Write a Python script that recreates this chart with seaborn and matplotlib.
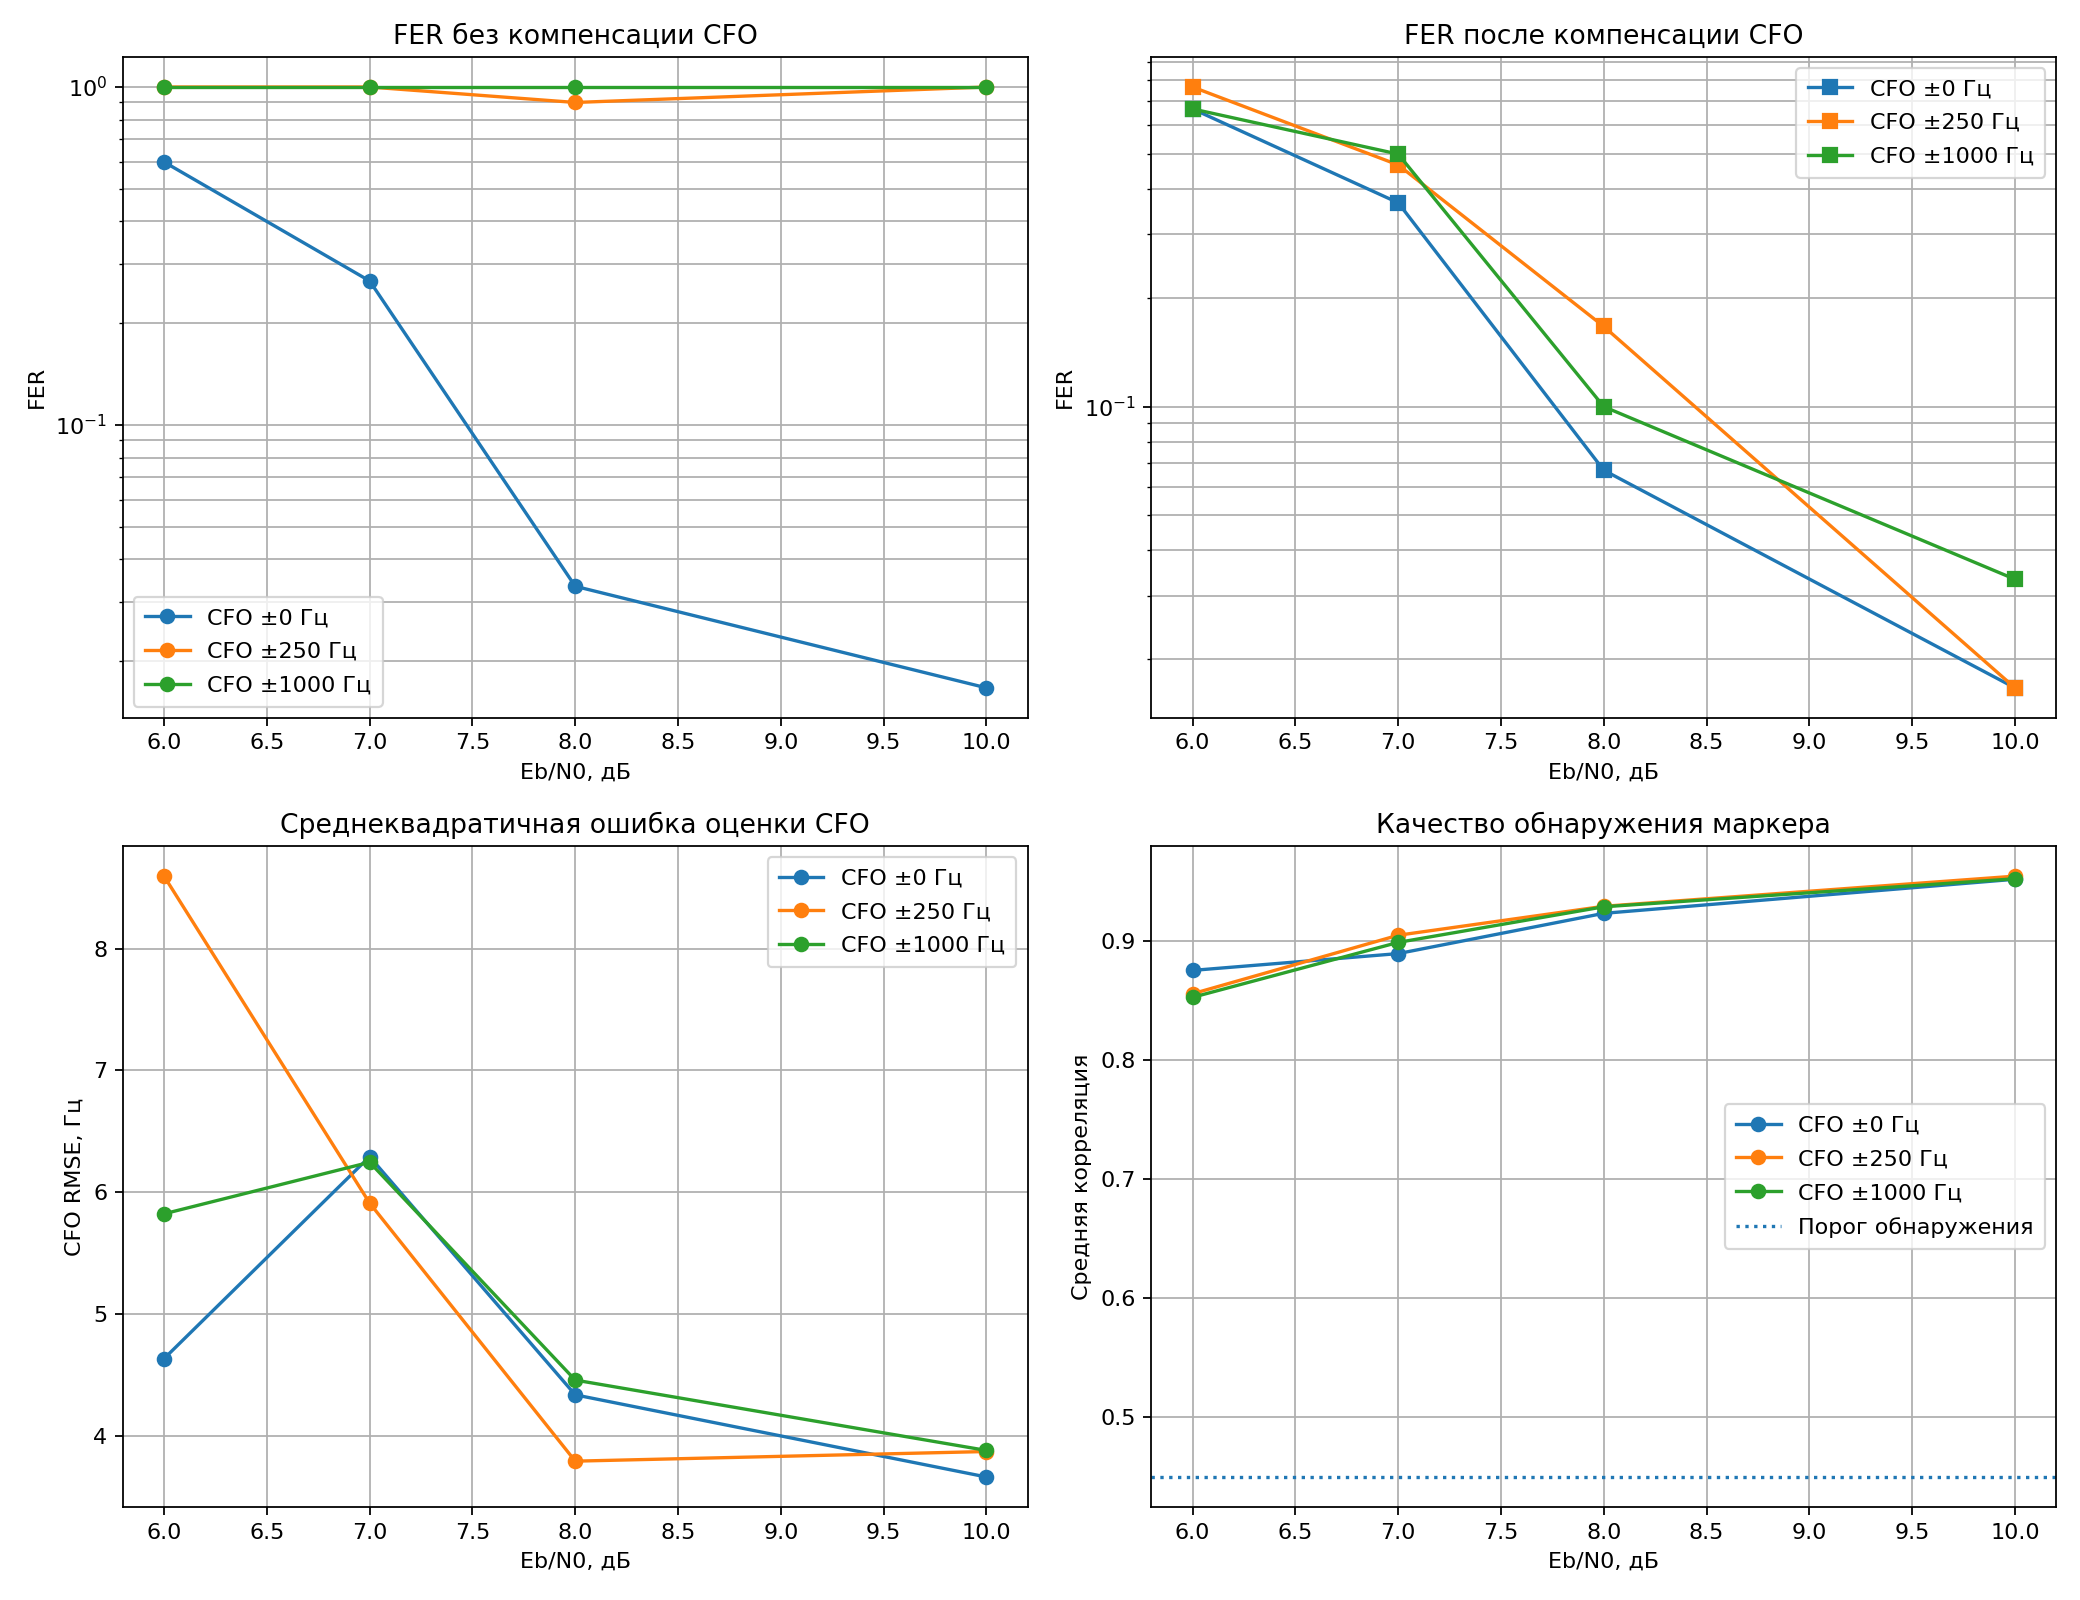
import matplotlib
matplotlib.use("Agg")
import matplotlib.pyplot as plt
import seaborn as sns
import numpy as np

ebn0 = [6.0, 7.0, 8.0, 10.0]
labels = ["CFO ±0 Гц", "CFO ±250 Гц", "CFO ±1000 Гц"]
colors = ["#1f77b4", "#ff7f0e", "#2ca02c"]

fer_before = [
    [0.6, 0.2667, 0.0333, 0.01667],
    [1.0, 1.0, 0.9, 1.0],
    [1.0, 1.0, 1.0, 1.0],
]
fer_after = [
    [0.6667, 0.3667, 0.0667, 0.01667],
    [0.7667, 0.4667, 0.1667, 0.01667],
    [0.6667, 0.5, 0.1, 0.0333],
]
cfo_rmse = [
    [4.636, 6.293, 4.339, 3.665],
    [8.594, 5.912, 3.795, 3.874],
    [5.824, 6.247, 4.460, 3.883],
]
mean_corr = [
    [0.8752, 0.8893, 0.9231, 0.9517],
    [0.8556, 0.9047, 0.9290, 0.9543],
    [0.8526, 0.8987, 0.9286, 0.9521],
]
threshold = 0.45
threshold_label = "Порог обнаружения"

titles = ["FER без компенсации CFO", "FER после компенсации CFO",
          "Среднеквадратичная ошибка оценки CFO", "Качество обнаружения маркера"]
xlabel = "Eb/N0, дБ"
ylabels = ["FER", "FER", "CFO RMSE, Гц", "Средняя корреляция"]

plt.rcParams['font.family'] = ['DejaVu Sans']
plt.rcParams['legend.labelspacing'] = 0.62
plt.rcParams['legend.borderpad'] = 0.5
fig, axes = plt.subplots(2, 2, figsize=(13, 10), dpi=160)
axs = axes.ravel()


def draw(ax, data, marker):
    for vals, lab, col in zip(data, labels, colors):
        sns.lineplot(x=ebn0, y=vals, ax=ax, label=lab, color=col, marker=marker,
                     markersize=6, markeredgecolor=col, markeredgewidth=1.0,
                     linewidth=1.5, errorbar=None, sort=False)


# panel 1
ax = axs[0]
ax.set_yscale('log')
draw(ax, fer_before, 'o')
ax.grid(True, which='both')
ax.legend(loc='lower left')

# panel 2
ax = axs[1]
ax.set_yscale('log')
draw(ax, fer_after, 's')
ax.grid(True, which='both')
ax.legend(loc='upper right')

# panel 3
ax = axs[2]
draw(ax, cfo_rmse, 'o')
ax.grid(True)
ax.legend(loc='upper right')

# panel 4
ax = axs[3]
draw(ax, mean_corr, 'o')
ax.axhline(threshold, linestyle=':', color='#1f77b4', linewidth=1.5, label=threshold_label)
ax.grid(True)
ax.legend(loc='center right')

for ax, t, yl in zip(axs, titles, ylabels):
    ax.set_title(t, fontsize=12)
    ax.set_xlabel(xlabel)
    ax.set_ylabel(yl)

fig.subplots_adjust(left=0.0591, right=0.9885, top=0.9644, bottom=0.0581,
                    wspace=0.137, hspace=0.194)
fig.savefig("out.png", dpi=160)
